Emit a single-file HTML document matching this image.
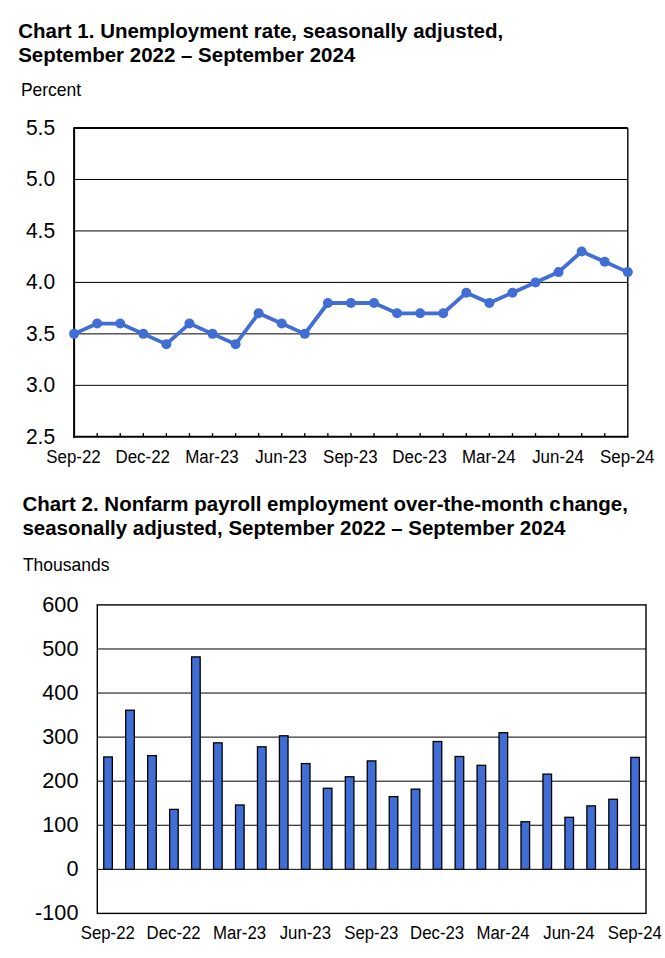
<!DOCTYPE html><html><head><meta charset="utf-8"><title>Charts</title><style>html,body{margin:0;padding:0;background:#fff;}svg{display:block;}text{font-family:'Liberation Sans', Arial, sans-serif;fill:#000;}</style></head><body>
<svg width="665" height="958" viewBox="0 0 665 958">
<rect width="665" height="958" fill="#fff"/>
<text transform="translate(18.20 37.60) scale(1.0 1.02)" font-size="20.5" font-weight="bold">Chart 1. Unemployment rate, seasonally adjusted,</text>
<text transform="translate(18.20 61.90) scale(1.0 1.02)" font-size="20.5" font-weight="bold">September 2022 – September 2024</text>
<text transform="translate(20.90 96.20) scale(1.0 1.04)" font-size="17.5">Percent</text>
<text transform="translate(55.10 134.80) scale(1.0 1.04)" font-size="21.0" text-anchor="end">5.5</text>
<line x1="74.10" y1="179.47" x2="627.80" y2="179.47" stroke="#000" stroke-width="1"/>
<text transform="translate(55.10 186.27) scale(1.0 1.04)" font-size="21.0" text-anchor="end">5.0</text>
<line x1="74.10" y1="230.93" x2="627.80" y2="230.93" stroke="#000" stroke-width="1"/>
<text transform="translate(55.10 237.73) scale(1.0 1.04)" font-size="21.0" text-anchor="end">4.5</text>
<line x1="74.10" y1="282.40" x2="627.80" y2="282.40" stroke="#000" stroke-width="1"/>
<text transform="translate(55.10 289.20) scale(1.0 1.04)" font-size="21.0" text-anchor="end">4.0</text>
<line x1="74.10" y1="333.87" x2="627.80" y2="333.87" stroke="#000" stroke-width="1"/>
<text transform="translate(55.10 340.67) scale(1.0 1.04)" font-size="21.0" text-anchor="end">3.5</text>
<line x1="74.10" y1="385.33" x2="627.80" y2="385.33" stroke="#000" stroke-width="1"/>
<text transform="translate(55.10 392.13) scale(1.0 1.04)" font-size="21.0" text-anchor="end">3.0</text>
<text transform="translate(55.10 443.60) scale(1.0 1.04)" font-size="21.0" text-anchor="end">2.5</text>
<line x1="97.17" y1="436.80" x2="97.17" y2="433.10" stroke="#000" stroke-width="1.3"/>
<line x1="120.24" y1="436.80" x2="120.24" y2="433.10" stroke="#000" stroke-width="1.3"/>
<line x1="143.31" y1="436.80" x2="143.31" y2="433.10" stroke="#000" stroke-width="1.3"/>
<line x1="166.38" y1="436.80" x2="166.38" y2="433.10" stroke="#000" stroke-width="1.3"/>
<line x1="189.45" y1="436.80" x2="189.45" y2="433.10" stroke="#000" stroke-width="1.3"/>
<line x1="212.52" y1="436.80" x2="212.52" y2="433.10" stroke="#000" stroke-width="1.3"/>
<line x1="235.60" y1="436.80" x2="235.60" y2="433.10" stroke="#000" stroke-width="1.3"/>
<line x1="258.67" y1="436.80" x2="258.67" y2="433.10" stroke="#000" stroke-width="1.3"/>
<line x1="281.74" y1="436.80" x2="281.74" y2="433.10" stroke="#000" stroke-width="1.3"/>
<line x1="304.81" y1="436.80" x2="304.81" y2="433.10" stroke="#000" stroke-width="1.3"/>
<line x1="327.88" y1="436.80" x2="327.88" y2="433.10" stroke="#000" stroke-width="1.3"/>
<line x1="350.95" y1="436.80" x2="350.95" y2="433.10" stroke="#000" stroke-width="1.3"/>
<line x1="374.02" y1="436.80" x2="374.02" y2="433.10" stroke="#000" stroke-width="1.3"/>
<line x1="397.09" y1="436.80" x2="397.09" y2="433.10" stroke="#000" stroke-width="1.3"/>
<line x1="420.16" y1="436.80" x2="420.16" y2="433.10" stroke="#000" stroke-width="1.3"/>
<line x1="443.23" y1="436.80" x2="443.23" y2="433.10" stroke="#000" stroke-width="1.3"/>
<line x1="466.30" y1="436.80" x2="466.30" y2="433.10" stroke="#000" stroke-width="1.3"/>
<line x1="489.37" y1="436.80" x2="489.37" y2="433.10" stroke="#000" stroke-width="1.3"/>
<line x1="512.45" y1="436.80" x2="512.45" y2="433.10" stroke="#000" stroke-width="1.3"/>
<line x1="535.52" y1="436.80" x2="535.52" y2="433.10" stroke="#000" stroke-width="1.3"/>
<line x1="558.59" y1="436.80" x2="558.59" y2="433.10" stroke="#000" stroke-width="1.3"/>
<line x1="581.66" y1="436.80" x2="581.66" y2="433.10" stroke="#000" stroke-width="1.3"/>
<line x1="604.73" y1="436.80" x2="604.73" y2="433.10" stroke="#000" stroke-width="1.3"/>
<line x1="74.10" y1="128.00" x2="627.80" y2="128.00" stroke="#000" stroke-width="1.95"/>
<line x1="627.80" y1="128.00" x2="627.80" y2="436.80" stroke="#000" stroke-width="1.4"/>
<line x1="74.10" y1="127.15" x2="74.10" y2="437.80" stroke="#000" stroke-width="2"/>
<line x1="73.10" y1="436.80" x2="628.50" y2="436.80" stroke="#000" stroke-width="2"/>
<text transform="translate(73.50 463.00) scale(1.0 1.04)" font-size="16.9" text-anchor="middle">Sep-22</text>
<text transform="translate(142.71 463.00) scale(1.0 1.04)" font-size="16.9" text-anchor="middle">Dec-22</text>
<text transform="translate(211.92 463.00) scale(1.0 1.04)" font-size="16.9" text-anchor="middle">Mar-23</text>
<text transform="translate(281.14 463.00) scale(1.0 1.04)" font-size="16.9" text-anchor="middle">Jun-23</text>
<text transform="translate(350.35 463.00) scale(1.0 1.04)" font-size="16.9" text-anchor="middle">Sep-23</text>
<text transform="translate(419.56 463.00) scale(1.0 1.04)" font-size="16.9" text-anchor="middle">Dec-23</text>
<text transform="translate(488.77 463.00) scale(1.0 1.04)" font-size="16.9" text-anchor="middle">Mar-24</text>
<text transform="translate(557.99 463.00) scale(1.0 1.04)" font-size="16.9" text-anchor="middle">Jun-24</text>
<text transform="translate(627.20 463.00) scale(1.0 1.04)" font-size="16.9" text-anchor="middle">Sep-24</text>
<polyline points="74.10,333.87 97.17,323.57 120.24,323.57 143.31,333.87 166.38,344.16 189.45,323.57 212.52,333.87 235.60,344.16 258.67,313.28 281.74,323.57 304.81,333.87 327.88,302.99 350.95,302.99 374.02,302.99 397.09,313.28 420.16,313.28 443.23,313.28 466.30,292.69 489.37,302.99 512.45,292.69 535.52,282.40 558.59,272.11 581.66,251.52 604.73,261.81 627.80,272.11" fill="none" stroke="#416ED5" stroke-width="3.8" stroke-linejoin="round"/>
<circle cx="74.10" cy="333.87" r="5" fill="#416ED5"/>
<circle cx="97.17" cy="323.57" r="5" fill="#416ED5"/>
<circle cx="120.24" cy="323.57" r="5" fill="#416ED5"/>
<circle cx="143.31" cy="333.87" r="5" fill="#416ED5"/>
<circle cx="166.38" cy="344.16" r="5" fill="#416ED5"/>
<circle cx="189.45" cy="323.57" r="5" fill="#416ED5"/>
<circle cx="212.52" cy="333.87" r="5" fill="#416ED5"/>
<circle cx="235.60" cy="344.16" r="5" fill="#416ED5"/>
<circle cx="258.67" cy="313.28" r="5" fill="#416ED5"/>
<circle cx="281.74" cy="323.57" r="5" fill="#416ED5"/>
<circle cx="304.81" cy="333.87" r="5" fill="#416ED5"/>
<circle cx="327.88" cy="302.99" r="5" fill="#416ED5"/>
<circle cx="350.95" cy="302.99" r="5" fill="#416ED5"/>
<circle cx="374.02" cy="302.99" r="5" fill="#416ED5"/>
<circle cx="397.09" cy="313.28" r="5" fill="#416ED5"/>
<circle cx="420.16" cy="313.28" r="5" fill="#416ED5"/>
<circle cx="443.23" cy="313.28" r="5" fill="#416ED5"/>
<circle cx="466.30" cy="292.69" r="5" fill="#416ED5"/>
<circle cx="489.37" cy="302.99" r="5" fill="#416ED5"/>
<circle cx="512.45" cy="292.69" r="5" fill="#416ED5"/>
<circle cx="535.52" cy="282.40" r="5" fill="#416ED5"/>
<circle cx="558.59" cy="272.11" r="5" fill="#416ED5"/>
<circle cx="581.66" cy="251.52" r="5" fill="#416ED5"/>
<circle cx="604.73" cy="261.81" r="5" fill="#416ED5"/>
<circle cx="627.80" cy="272.11" r="5" fill="#416ED5"/>
<text transform="translate(22.40 510.70) scale(1.0 1.02)" font-size="20.5" font-weight="bold">Chart 2. Nonfarm payroll employment over-the-month c<tspan dx="1.2">hange,</tspan></text>
<text transform="translate(22.40 535.00) scale(1.0 1.02)" font-size="20.5" font-weight="bold">seasonally adjusted, September 2022 – September 2024</text>
<text transform="translate(22.90 570.90) scale(1.0 1.04)" font-size="17.5">Thousands</text>
<text transform="translate(78.50 611.80) scale(1.0 1.04)" font-size="21.7" text-anchor="end">600</text>
<line x1="97.30" y1="648.97" x2="646.00" y2="648.97" stroke="#000" stroke-width="1"/>
<text transform="translate(78.50 655.87) scale(1.0 1.04)" font-size="21.7" text-anchor="end">500</text>
<line x1="97.30" y1="693.04" x2="646.00" y2="693.04" stroke="#000" stroke-width="1"/>
<text transform="translate(78.50 699.94) scale(1.0 1.04)" font-size="21.7" text-anchor="end">400</text>
<line x1="97.30" y1="737.11" x2="646.00" y2="737.11" stroke="#000" stroke-width="1"/>
<text transform="translate(78.50 744.01) scale(1.0 1.04)" font-size="21.7" text-anchor="end">300</text>
<line x1="97.30" y1="781.19" x2="646.00" y2="781.19" stroke="#000" stroke-width="1"/>
<text transform="translate(78.50 788.09) scale(1.0 1.04)" font-size="21.7" text-anchor="end">200</text>
<line x1="97.30" y1="825.26" x2="646.00" y2="825.26" stroke="#000" stroke-width="1"/>
<text transform="translate(78.50 832.16) scale(1.0 1.04)" font-size="21.7" text-anchor="end">100</text>
<line x1="97.30" y1="869.33" x2="646.00" y2="869.33" stroke="#000" stroke-width="1"/>
<text transform="translate(78.50 876.23) scale(1.0 1.04)" font-size="21.7" text-anchor="end">0</text>
<text transform="translate(78.50 920.30) scale(1.0 1.04)" font-size="21.7" text-anchor="end">-100</text>
<rect x="103.75" y="756.95" width="8.60" height="112.38" fill="#416ED5" stroke="#000" stroke-width="1.3"/>
<rect x="125.71" y="710.23" width="8.60" height="159.10" fill="#416ED5" stroke="#000" stroke-width="1.3"/>
<rect x="147.67" y="755.62" width="8.60" height="113.70" fill="#416ED5" stroke="#000" stroke-width="1.3"/>
<rect x="169.63" y="809.39" width="8.60" height="59.94" fill="#416ED5" stroke="#000" stroke-width="1.3"/>
<rect x="191.59" y="656.90" width="8.60" height="212.42" fill="#416ED5" stroke="#000" stroke-width="1.3"/>
<rect x="213.55" y="742.84" width="8.60" height="126.49" fill="#416ED5" stroke="#000" stroke-width="1.3"/>
<rect x="235.51" y="804.98" width="8.60" height="64.34" fill="#416ED5" stroke="#000" stroke-width="1.3"/>
<rect x="257.47" y="746.81" width="8.60" height="122.52" fill="#416ED5" stroke="#000" stroke-width="1.3"/>
<rect x="279.43" y="735.79" width="8.60" height="133.54" fill="#416ED5" stroke="#000" stroke-width="1.3"/>
<rect x="301.39" y="763.56" width="8.60" height="105.77" fill="#416ED5" stroke="#000" stroke-width="1.3"/>
<rect x="323.35" y="788.24" width="8.60" height="81.09" fill="#416ED5" stroke="#000" stroke-width="1.3"/>
<rect x="345.31" y="776.78" width="8.60" height="92.55" fill="#416ED5" stroke="#000" stroke-width="1.3"/>
<rect x="367.27" y="760.91" width="8.60" height="108.42" fill="#416ED5" stroke="#000" stroke-width="1.3"/>
<rect x="389.23" y="796.61" width="8.60" height="72.72" fill="#416ED5" stroke="#000" stroke-width="1.3"/>
<rect x="411.19" y="789.12" width="8.60" height="80.21" fill="#416ED5" stroke="#000" stroke-width="1.3"/>
<rect x="433.15" y="741.52" width="8.60" height="127.81" fill="#416ED5" stroke="#000" stroke-width="1.3"/>
<rect x="455.11" y="756.51" width="8.60" height="112.82" fill="#416ED5" stroke="#000" stroke-width="1.3"/>
<rect x="477.07" y="765.32" width="8.60" height="104.01" fill="#416ED5" stroke="#000" stroke-width="1.3"/>
<rect x="499.03" y="732.71" width="8.60" height="136.62" fill="#416ED5" stroke="#000" stroke-width="1.3"/>
<rect x="520.99" y="821.73" width="8.60" height="47.60" fill="#416ED5" stroke="#000" stroke-width="1.3"/>
<rect x="542.95" y="774.13" width="8.60" height="95.19" fill="#416ED5" stroke="#000" stroke-width="1.3"/>
<rect x="564.91" y="817.32" width="8.60" height="52.00" fill="#416ED5" stroke="#000" stroke-width="1.3"/>
<rect x="586.87" y="805.87" width="8.60" height="63.46" fill="#416ED5" stroke="#000" stroke-width="1.3"/>
<rect x="608.83" y="799.25" width="8.60" height="70.07" fill="#416ED5" stroke="#000" stroke-width="1.3"/>
<rect x="630.79" y="757.39" width="8.60" height="111.94" fill="#416ED5" stroke="#000" stroke-width="1.3"/>
<rect x="97.30" y="604.90" width="548.70" height="308.50" fill="none" stroke="#000" stroke-width="1.4"/>
<text transform="translate(107.75 938.60) scale(1.0 1.04)" font-size="16.8" text-anchor="middle">Sep-22</text>
<text transform="translate(173.63 938.60) scale(1.0 1.04)" font-size="16.8" text-anchor="middle">Dec-22</text>
<text transform="translate(239.51 938.60) scale(1.0 1.04)" font-size="16.8" text-anchor="middle">Mar-23</text>
<text transform="translate(305.39 938.60) scale(1.0 1.04)" font-size="16.8" text-anchor="middle">Jun-23</text>
<text transform="translate(371.27 938.60) scale(1.0 1.04)" font-size="16.8" text-anchor="middle">Sep-23</text>
<text transform="translate(437.15 938.60) scale(1.0 1.04)" font-size="16.8" text-anchor="middle">Dec-23</text>
<text transform="translate(503.03 938.60) scale(1.0 1.04)" font-size="16.8" text-anchor="middle">Mar-24</text>
<text transform="translate(568.91 938.60) scale(1.0 1.04)" font-size="16.8" text-anchor="middle">Jun-24</text>
<text transform="translate(634.79 938.60) scale(1.0 1.04)" font-size="16.8" text-anchor="middle">Sep-24</text>
</svg></body></html>
